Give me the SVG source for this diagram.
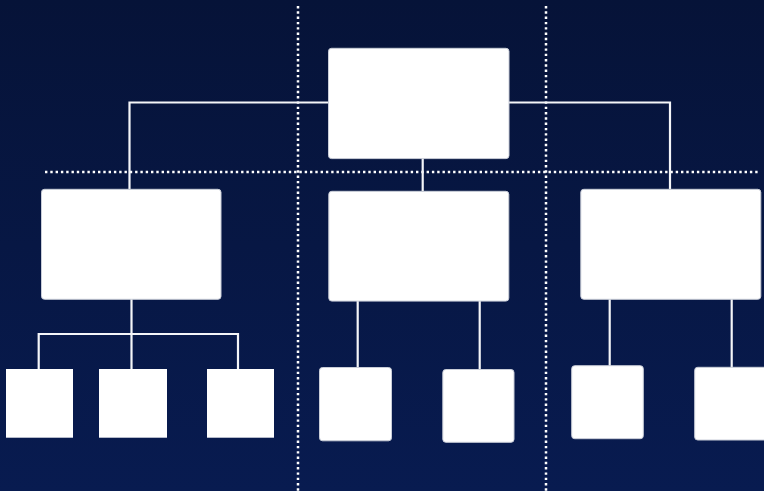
<svg xmlns="http://www.w3.org/2000/svg" width="764" height="491" viewBox="0 0 764 491">
  <defs>
    <linearGradient id="bg" x1="0" y1="0" x2="0" y2="1">
      <stop offset="0" stop-color="#061338"/>
      <stop offset="1" stop-color="#081b50"/>
    </linearGradient>
    <style>
      .box{fill:#ffffff;stroke:#c9cdd8;stroke-width:1}
      .sq{fill:#ffffff}
      .conn{fill:none;stroke:#f4f5f8;stroke-width:2.2}
      .div{fill:none;stroke:#ffffff;stroke-width:2.5;stroke-dasharray:2.4 2.9}
    </style>
  </defs>
  <rect x="0" y="0" width="764" height="491" fill="url(#bg)"/>
  <g id="dividers">
    <line class="div" x1="298" y1="6" x2="298" y2="491"/>
    <line class="div" x1="546" y1="6" x2="546" y2="491"/>
    <line class="div" x1="45" y1="172" x2="758" y2="172"/>
  </g>
  <g id="connectors">
    <polyline class="conn" points="129.5,189 129.5,102.5 670,102.5 670,189"/>
    <line class="conn" x1="422.7" y1="158" x2="422.7" y2="191"/>
    <line class="conn" x1="131.5" y1="299" x2="131.5" y2="369"/>
    <polyline class="conn" points="38.7,369 38.7,334 238,334 238,369"/>
    <line class="conn" x1="357.7" y1="301" x2="357.7" y2="368"/>
    <line class="conn" x1="479.7" y1="301" x2="479.7" y2="370"/>
    <line class="conn" x1="609.7" y1="299" x2="609.7" y2="366"/>
    <line class="conn" x1="731.7" y1="299" x2="731.7" y2="368"/>
  </g>
  <g id="root"><rect class="box" x="328.5" y="48.3" width="180.5" height="110.3" rx="3"/></g>
  <g id="left"><rect class="box" x="41.5" y="189.3" width="179.5" height="110" rx="3"/></g>
  <g id="middle"><rect class="box" x="328.8" y="191.3" width="180" height="109.8" rx="3"/></g>
  <g id="right"><rect class="box" x="580.8" y="189.3" width="180" height="110" rx="3"/></g>
  <g id="left-1"><rect class="sq" x="6" y="369" width="67" height="68.7"/></g>
  <g id="left-2"><rect class="sq" x="99" y="369" width="68" height="68.7"/></g>
  <g id="left-3"><rect class="sq" x="207" y="369" width="67" height="68.7"/></g>
  <g id="middle-1"><rect class="box" x="319.5" y="367.5" width="72" height="73.3" rx="3"/></g>
  <g id="middle-2"><rect class="box" x="442.8" y="369.5" width="71.2" height="72.8" rx="3"/></g>
  <g id="right-1"><rect class="box" x="571.7" y="365.7" width="71.6" height="73" rx="3"/></g>
  <g id="right-2"><rect class="box" x="694.7" y="367.3" width="80" height="72.7" rx="3"/></g>
</svg>
